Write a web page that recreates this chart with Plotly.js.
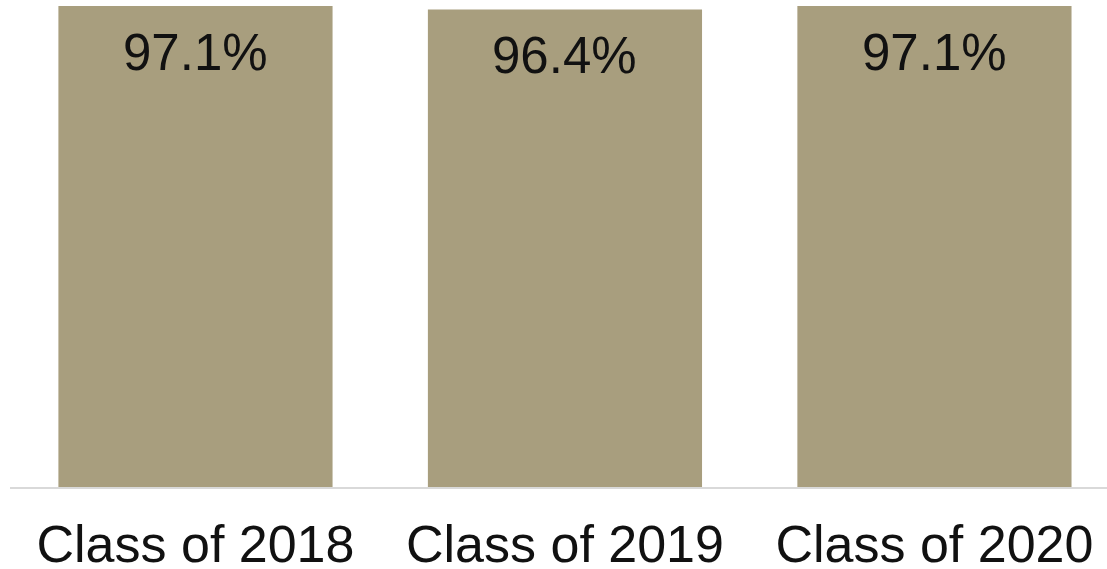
<!DOCTYPE html>
<html>
<head>
<meta charset="utf-8">
<script src="https://cdn.plot.ly/plotly-3.0.1.min.js"></script>
<style>html,body{margin:0;padding:0;background:#fff;}#chart{width:1107px;height:569px;}</style>
</head>
<body>
<div id="chart"></div>
<script>
const categories = ["Class of 2018", "Class of 2019", "Class of 2020"];
const values = [97.1, 96.4, 97.1];
const valueLabels = ["97.1%", "96.4%", "97.1%"];

const barColor = "#a89e7e";
const fontFamily = "Liberation Sans, Arial, sans-serif";

const trace = {
  type: "bar",
  x: categories,
  y: values,
  marker: { color: barColor, line: { width: 0 } },
  hoverinfo: "skip"
};

const annotations = categories.map((c, i) => ({
  x: c,
  y: values[i],
  xref: "x",
  yref: "y",
  text: valueLabels[i],
  showarrow: false,
  yanchor: "top",
  yshift: -16,
  font: { family: fontFamily, size: 51, color: "#111111" }
}));

const layout = {
  width: 1107,
  height: 569,
  margin: { l: 10, r: 0, t: 0, b: 82 },
  paper_bgcolor: "#ffffff",
  plot_bgcolor: "#ffffff",
  showlegend: false,
  bargap: 0.258,
  xaxis: {
    type: "category",
    range: [-0.502, 2.467],
    showline: true,
    linecolor: "#d9d9d9",
    linewidth: 2,
    showgrid: false,
    zeroline: false,
    ticks: "",
    ticklabelstandoff: 11,
    tickfont: { family: fontFamily, size: 52, color: "#111111" }
  },
  yaxis: {
    range: [0, 98.3],
    visible: false,
    showgrid: false,
    zeroline: false
  },
  annotations: annotations
};

Plotly.newPlot("chart", [trace], layout, { displayModeBar: false, staticPlot: true });
</script>
</body>
</html>
